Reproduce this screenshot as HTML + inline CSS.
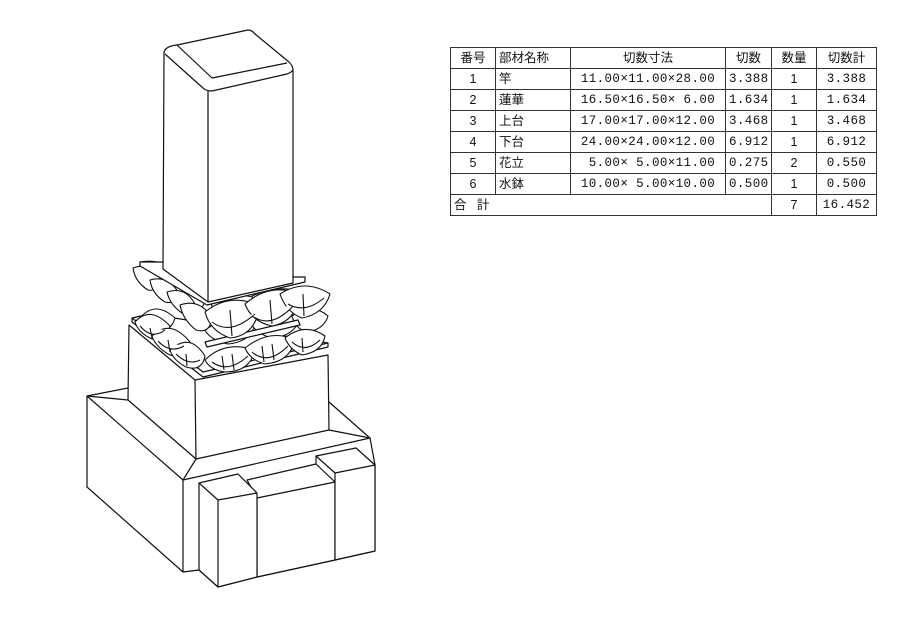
<!DOCTYPE html>
<html><head><meta charset="utf-8"><style>
html,body{margin:0;padding:0;background:#fff;}
body{width:900px;height:636px;position:relative;overflow:hidden;}
svg{position:absolute;left:0;top:0;}
table{position:absolute;left:450px;top:47px;border-collapse:collapse;table-layout:fixed;width:426px;font-family:"Liberation Sans","Noto Sans CJK JP",sans-serif;font-size:12.5px;color:#111;}
td{border:1px solid #333;height:20px;padding:0 3px;line-height:20px;white-space:pre;overflow:hidden;}
.c{text-align:center}
.m{font-family:"Liberation Mono","Noto Sans CJK JP",monospace;font-size:12.5px;letter-spacing:0.4px;}
</style></head><body>
<svg width="900" height="636" viewBox="0 0 900 636" fill="#fff" stroke="#111" stroke-width="1.2" stroke-linejoin="round">
<polygon points="87,396 128,388 329,402 370,438 375,465 375,551 335,560 257,577 218,587 199,570 183,572 87,487"/>
<line x1="87" y1="396" x2="183" y2="480"/>
<line x1="183" y1="480" x2="370" y2="438"/>
<line x1="183" y1="480" x2="183" y2="572"/>
<line x1="87" y1="396" x2="128" y2="400"/>
<line x1="183" y1="480" x2="196" y2="459"/>
<line x1="329" y1="430" x2="370" y2="438"/>
<polygon points="129,325 195,380 328,355 329,430 196,459 128,400"/>
<line x1="195" y1="380" x2="196" y2="459"/>
<polygon points="247,480 316,464 335,482 335,560 257,577 257,498"/>
<line x1="257" y1="498" x2="335" y2="482"/>
<polygon points="316,456 356,448 375,465 375,551 335,560 335,473"/>
<line x1="335" y1="473" x2="375" y2="465"/>
<line x1="316" y1="456" x2="316" y2="464"/>
<polygon points="199,483 238,474 257,493 257,577 218,587 199,570"/>
<line x1="199" y1="483" x2="218" y2="500"/>
<line x1="218" y1="500" x2="257" y2="493"/>
<line x1="218" y1="500" x2="218" y2="587"/>
<polygon points="132,318 150,314 328,343 328,347 203,377 132,322"/>
<polyline fill="none" points="132,318 203,372 328,343"/>
<g stroke-width="1.1">
<path d="M140,318 Q155,300 175,318 Q170,334 156,330 Q143,326 140,318Z"/>
<path d="M205,330 Q230,312 255,325 Q250,342 228,344 Q210,340 205,330Z"/>
<path d="M250,322 Q275,305 300,318 Q295,336 272,338 Q256,334 250,322Z"/>
<path d="M292,316 Q312,302 328,316 Q324,330 306,332 Q295,328 292,316Z"/>
<path d="M135,322 Q150,305 170,326 Q165,345 150,338 Q138,332 135,322Z"/>
<path d="M152,336 Q170,318 190,342 Q185,362 168,354 Q155,346 152,336Z"/>
<path d="M170,350 Q190,332 205,356 Q202,372 186,367 Q173,360 170,350Z"/>
<path d="M140,326 Q152,340 165,330"/>
<path d="M158,341 Q170,354 184,346"/>
<path d="M176,354 Q188,366 200,360"/>
<path d="M150,328 L152,338 M168,340 L170,352 M186,354 L187,366"/>
<path d="M205,360 Q225,340 255,350 Q250,372 225,372 Q210,370 205,360Z"/>
<path d="M245,348 Q270,328 295,340 Q290,362 265,364 Q250,360 245,348Z"/>
<path d="M285,338 Q305,322 325,336 Q322,352 302,355 Q290,350 285,338Z"/>
<path d="M212,362 Q228,374 248,356"/>
<path d="M252,352 Q268,366 288,346"/>
<path d="M292,342 Q305,354 320,340"/>
<path d="M222,356 L224,370 M232,354 L234,370 M262,346 L264,362 M272,344 L274,360 M302,338 L303,352"/>
</g>
<polygon points="205,342 298,320 300,325 207,347"/>
<g stroke-width="1.1">
<path d="M140,262 Q165,258 175,275 Q172,290 160,288 Q145,280 140,262Z"/>
<path d="M155,272 Q180,268 190,286 Q188,300 176,298 Q160,290 155,272Z"/>
<path d="M170,283 Q195,278 205,296 Q206,312 190,308 Q175,300 170,283Z"/>
<path d="M133,268 Q150,262 160,278 Q158,292 148,290 Q135,282 133,268Z"/>
<path d="M150,280 Q168,275 178,292 Q176,305 165,302 Q152,294 150,280Z"/>
<path d="M167,292 Q185,286 195,304 Q195,318 182,313 Q170,305 167,292Z"/>
<path d="M180,305 Q200,298 212,318 Q210,334 196,330 Q183,320 180,305Z"/>
<path d="M210,300 Q235,290 262,300 Q258,322 235,326 Q215,320 210,300Z"/>
<path d="M252,296 Q278,284 302,292 Q298,314 276,318 Q258,314 252,296Z"/>
<path d="M205,312 Q230,292 260,306 Q255,336 230,338 Q210,331 205,312Z"/>
<path d="M245,304 Q270,282 300,294 Q296,322 272,326 Q252,322 245,304Z"/>
<path d="M280,294 Q305,278 330,294 Q324,314 302,318 Q286,312 280,294Z"/>
<path d="M212,322 Q230,336 255,314"/>
<path d="M252,316 Q272,330 295,304"/>
<path d="M288,304 Q305,314 324,298"/>
<path d="M230,310 L232,336 M270,300 L272,324 M303,294 L304,316"/>
</g>
<polygon points="140,262 163,262 208,296 293,277 305,277 305,282 207,305 140,266"/>
<path d="M164,52 Q166,46 177,45 L248,30 Q252,30 255,34 L289,62 Q293,66 293,70 L293,283 L208,302 L163,269 Z"/>
<path fill="none" d="M165,54 L203,88 Q206,91 212,91 L287,74 Q292,72 293,70"/>
<path fill="none" d="M177,45 L212,78 L287,63"/>
<line x1="208" y1="91" x2="208" y2="302"/>
</svg>
<table>
<colgroup><col style="width:45px"><col style="width:75px"><col style="width:155px"><col style="width:46px"><col style="width:45px"><col style="width:60px"></colgroup>
<tr><td class="c">番号</td><td>部材名称</td><td class="c">切数寸法</td><td class="c">切数</td><td class="c">数量</td><td class="c">切数計</td></tr>
<tr><td class="c">1</td><td>竿</td><td class="c m">11.00×11.00×28.00</td><td class="m">3.388</td><td class="c">1</td><td class="c m">3.388</td></tr>
<tr><td class="c">2</td><td>蓮華</td><td class="c m">16.50×16.50× 6.00</td><td class="m">1.634</td><td class="c">1</td><td class="c m">1.634</td></tr>
<tr><td class="c">3</td><td>上台</td><td class="c m">17.00×17.00×12.00</td><td class="m">3.468</td><td class="c">1</td><td class="c m">3.468</td></tr>
<tr><td class="c">4</td><td>下台</td><td class="c m">24.00×24.00×12.00</td><td class="m">6.912</td><td class="c">1</td><td class="c m">6.912</td></tr>
<tr><td class="c">5</td><td>花立</td><td class="c m"> 5.00× 5.00×11.00</td><td class="m">0.275</td><td class="c">2</td><td class="c m">0.550</td></tr>
<tr><td class="c">6</td><td>水鉢</td><td class="c m">10.00× 5.00×10.00</td><td class="m">0.500</td><td class="c">1</td><td class="c m">0.500</td></tr>
<tr><td colspan="4">合   計</td><td class="c">7</td><td class="c m">16.452</td></tr>
</table>
</body></html>
